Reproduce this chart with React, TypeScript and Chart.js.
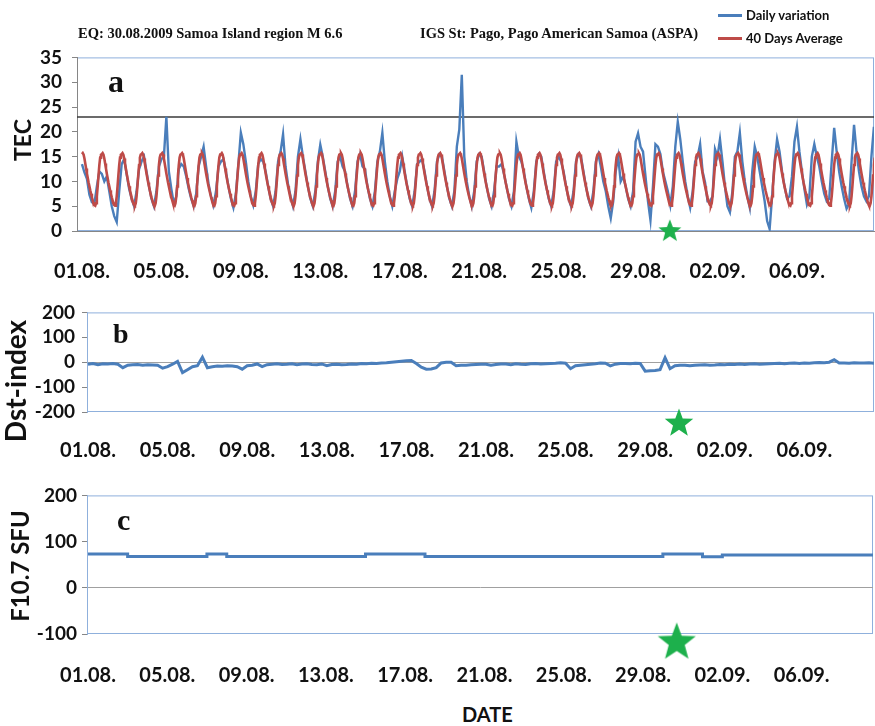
import React, { useEffect, useRef } from "react";
import { Chart, registerables } from "chart.js";

Chart.register(...registerables);

// ---------- data ----------
const dateLabels = ["01.08.", "05.08.", "09.08.", "13.08.", "17.08.", "21.08.", "25.08.", "29.08.", "02.09.", "06.09."];
const labelDays = [0, 4, 8, 12, 16, 20, 24, 28, 32, 36];

// 40-day average TEC diurnal profile (UT hours 0..23), repeated every day
const avgProfile = [15.5, 15.7, 15.4, 14.6, 13.6, 12.6, 11.6, 10.7, 9.8, 9.0, 8.2, 7.5, 6.8, 6.2, 5.6, 5.2, 5.1, 5.6, 7.0, 9.0, 11.2, 13.3, 14.8, 15.4];

// Daily TEC variation, one row per day, values at UT 0,3,6,9,12,15,18,21 h
const dailyVariation = [
  [13.5, 11.8, 10.5, 7.3, 5.8, 5.5, 9, 12],
  [11.5, 10, 11, 8, 5, 3, 1.8, 8],
  [13.5, 14.5, 11.5, 8.5, 6.5, 5, 8, 12.5],
  [14, 15, 12, 9, 6.5, 5, 8, 13],
  [14.5, 15, 23, 12, 8.5, 5.5, 7, 12.5],
  [13.5, 13, 11, 8.5, 6.5, 5, 7.5, 13],
  [15, 17, 13, 9.5, 7, 5.2, 8, 13],
  [14, 14.5, 12, 9, 6.5, 4.7, 7.5, 13.5],
  [19.8, 17.5, 14, 10, 7, 5.2, 8, 13.5],
  [14.5, 14, 12, 9, 6.5, 5, 8, 14],
  [16, 19.5, 13, 9.5, 7, 5, 8, 15],
  [18.5, 15, 12, 9, 6.5, 5, 8, 14],
  [17.4, 15, 12, 9, 6.5, 5, 8, 14],
  [15, 13, 12, 9, 6.5, 5, 8, 14],
  [15.5, 13, 12.5, 9, 6.5, 5, 8, 14],
  [16, 19.8, 14, 10, 7, 5, 8, 10.5],
  [12, 15, 12, 9, 6.5, 5, 8, 13.5],
  [14, 14.5, 12, 9, 6.5, 5, 8, 14],
  [15.5, 15, 12, 9, 6.5, 5, 8, 17],
  [20.5, 31.5, 15, 10, 7, 5, 8, 14],
  [15.5, 15, 12, 9, 6.5, 5, 8, 13],
  [13, 13.5, 11.5, 9, 6.5, 5, 8, 18],
  [15, 14, 12, 9, 6.5, 4.7, 8, 14],
  [15.5, 15, 12, 9, 6.5, 5, 8, 14],
  [15, 14, 12, 9, 6.5, 5, 8, 14],
  [15.5, 15, 12, 9, 6.5, 5, 8, 14],
  [15.5, 13, 10, 8, 5, 2.6, 6, 12],
  [15, 10, 11, 9, 6.5, 5, 8, 18],
  [19.7, 17, 16, 11, 6, 2.2, 9, 17.5],
  [17, 15.5, 12, 10, 8, 5.2, 9, 17],
  [22, 18.5, 14, 10, 7, 4.7, 8, 14],
  [15, 17.5, 12, 9.8, 6, 6, 7, 16.5],
  [15, 18.5, 14, 9, 5, 3.8, 8, 15],
  [16, 19.8, 14, 10, 7, 4.7, 12, 17],
  [15, 12, 9, 6, 2, 0.4, 7, 14],
  [18.5, 16, 12, 9, 6.6, 7, 11, 18],
  [21, 16, 12, 8.5, 5.4, 7, 15, 17.5],
  [15, 13, 10, 7.5, 6, 6.5, 14, 20.8],
  [16, 12, 9, 6.5, 4.5, 5.5, 14, 21.4],
  [16, 12, 9, 7, 6, 7, 15, 21],
];

// Dst index, one row per day, values at UT 0,6,12,18 h
const dstIndex = [
  [-8, -5, -10, -6], [-7, -5, -8, -22], [-12, -10, -9, -12], [-10, -11, -12, -24],
  [-18, -8, 3, -42], [-30, -18, -14, 20], [-22, -18, -15, -16], [-14, -15, -18, -28],
  [-14, -12, -7, -18], [-10, -8, -6, -9], [-8, -6, -10, -7], [-6, -9, -10, -7],
  [-14, -9, -8, -10], [-9, -7, -8, -5], [-6, -4, -5, -3], [-2, 0, 2, 4],
  [6, 7, -5, -20], [-28, -27, -22, -3], [0, 0, -14, -12], [-12, -10, -9, -8],
  [-8, -12, -9, -7], [-7, -10, -6, -8], [-9, -6, -5, -7], [-6, -5, -4, -2],
  [-4, -26, -14, -12], [-10, -8, -6, -3], [-4, -15, -8, -5], [-5, -6, -4, -5],
  [-36, -34, -33, -30], [18, -26, -14, -12], [-12, -14, -12, -11], [-10, -12, -11, -9],
  [-10, -8, -9, -7], [-9, -7, -6, -8], [-7, -6, -5, -4], [-6, -4, -3, -5],
  [-3, -4, -2, -1], [-2, 0, 10, -3], [-3, -4, -2, -3], [-3, -2, -4, -3],
];

// F10.7 solar flux, daily values
const f107 = [73, 73, 68, 68, 68, 68, 73, 68, 68, 68, 68, 68, 68, 68, 73, 73, 73, 68, 68, 68,
  68, 68, 68, 68, 68, 68, 68, 68, 68, 73, 73, 67, 71, 71, 71, 71, 71, 71, 71, 71];

const tecThreshold = 23;
const eqDay = 29.7;

// ---------- styles ----------
const BLUE = "#4a7ebb";
const RED = "#be4b48";
const FRAME = "#8fb0dc";
const AXIS = "#868686";
const STAR = "#1db04c";
const FONT = "Lato";

function makeStar(R: number) {
  const c = document.createElement("canvas");
  c.width = Math.ceil(2 * R);
  c.height = Math.ceil(2 * R);
  const ctx = c.getContext("2d")!;
  const cx = R, cy = R * 1.1;
  const r = R * 0.42;
  ctx.beginPath();
  for (let i = 0; i < 10; i++) {
    const rad = i % 2 === 0 ? R : r;
    const a = -Math.PI / 2 + (i * Math.PI) / 5;
    const x = cx + rad * Math.cos(a);
    const y = cy + rad * Math.sin(a);
    if (i === 0) ctx.moveTo(x, y); else ctx.lineTo(x, y);
  }
  ctx.closePath();
  ctx.fillStyle = STAR;
  ctx.fill();
  return c;
}

const framePlugin = {
  id: "frame",
  beforeDraw(chart: any, _args: any, opts: any) {
    const { ctx, chartArea: a } = chart;
    ctx.save();
    ctx.strokeStyle = opts.color || FRAME;
    ctx.lineWidth = 1;
    ctx.strokeRect(a.left + 0.5, a.top + 0.5, a.right - a.left - 1, a.bottom - a.top - 1);
    ctx.restore();
  },
};

function xAxis(min: number, max: number, pad: number, h: number, border: boolean) {
  return {
    type: "linear",
    min,
    max,
    afterBuildTicks: (s: any) => {
      s.ticks = labelDays.map((v) => ({ value: v }));
    },
    afterFit: (s: any) => {
      s.height = h;
    },
    grid: { display: false, drawTicks: false },
    border: { display: border, color: AXIS, width: 1 },
    ticks: {
      autoSkip: false,
      maxRotation: 0,
      padding: pad,
      color: "#111",
      font: { family: FONT, weight: "bold", size: 20 },
      callback: (v: any) => {
        const i = labelDays.indexOf(v);
        return i < 0 ? "" : dateLabels[i];
      },
    },
  };
}

function yAxis(min: number, max: number, step: number, w: number, borderColor: string, zeroLine: boolean, pad: number) {
  return {
    min,
    max,
    afterFit: (s: any) => {
      s.width = w;
    },
    ticks: { stepSize: step, autoSkip: false, padding: pad, color: "#111", font: { family: FONT, weight: "bold", size: 19 } },
    grid: {
      drawTicks: true,
      tickLength: 5,
      tickColor: AXIS,
      lineWidth: 1,
      color: (c: any) => (zeroLine && c.tick && c.tick.value === 0 ? "#a0a0a0" : "rgba(0,0,0,0)"),
    },
    border: { color: borderColor, width: 1 },
  };
}

const baseOptions = (padRight: number) => ({
  responsive: false,
  animation: false,
  events: [],
  layout: { autoPadding: false, padding: { top: 14, right: padRight, left: 0, bottom: 0 } },
  elements: { point: { radius: 0 }, line: { tension: 0 } },
});

function tecConfig(): any {
  const blue: { x: number; y: number }[] = [];
  dailyVariation.forEach((day, d) => day.forEach((v, k) => blue.push({ x: d + (k * 3) / 24, y: v })));
  const red: { x: number; y: number }[] = [];
  for (let d = 0; d < dailyVariation.length; d++) avgProfile.forEach((v, h) => red.push({ x: d + h / 24, y: v }));
  const xmin = -0.25, xmax = 39.88;
  return {
    type: "line",
    data: {
      datasets: [
        { data: [{ x: eqDay - 0.1, y: 0.2 }], showLine: false, pointStyle: makeStar(12), pointRadius: 12, clip: false },
        { label: "40 Days Average", data: red, borderColor: RED, borderWidth: 2.6, pointRadius: 0 },
        { label: "Daily variation", data: blue, borderColor: BLUE, borderWidth: 2.4, pointRadius: 0 },
        { data: [{ x: xmin, y: tecThreshold }, { x: xmax, y: tecThreshold }], borderColor: "#3a3a3a", borderWidth: 1.5, pointRadius: 0 },
      ],
    },
    options: {
      ...baseOptions(1),
      plugins: { legend: { display: false }, tooltip: { enabled: false }, frame: { color: FRAME } },
      scales: {
        x: xAxis(xmin, xmax, 29, 59, true),
        y: yAxis(0, 35, 5, 77, AXIS, false, 10),
      },
    },
    plugins: [framePlugin],
  };
}

function dstConfig(): any {
  const pts: { x: number; y: number }[] = [];
  dstIndex.forEach((day, d) => day.forEach((v, k) => pts.push({ x: d + (k * 6) / 24, y: v })));
  return {
    type: "line",
    data: {
      datasets: [
        { data: [{ x: eqDay, y: -240 }], showLine: false, pointStyle: makeStar(15), pointRadius: 15, clip: false },
        { label: "Dst", data: pts, borderColor: BLUE, borderWidth: 3, pointRadius: 0 },
      ],
    },
    options: {
      ...baseOptions(1),
      plugins: { legend: { display: false }, tooltip: { enabled: false }, frame: { color: FRAME } },
      scales: {
        x: xAxis(-0.05, 39.5, 27, 56, false),
        y: yAxis(-200, 200, 100, 87, FRAME, true, 7),
      },
    },
    plugins: [framePlugin],
  };
}

function fluxConfig(): any {
  const pts: { x: number; y: number }[] = f107.map((v, d) => ({ x: d, y: v }));
  pts.push({ x: f107.length, y: f107[f107.length - 1] });
  return {
    type: "line",
    data: {
      datasets: [
        { data: [{ x: eqDay, y: -114 }], showLine: false, pointStyle: makeStar(20), pointRadius: 20, clip: false },
        { label: "F10.7", data: pts, borderColor: BLUE, borderWidth: 3, pointRadius: 0, stepped: "before" },
      ],
    },
    options: {
      ...baseOptions(2),
      plugins: { legend: { display: false }, tooltip: { enabled: false }, frame: { color: FRAME } },
      scales: {
        x: xAxis(-0.05, 39.6, 30, 64, false),
        y: yAxis(-100, 200, 100, 87, FRAME, true, 5),
      },
    },
    plugins: [framePlugin],
  };
}

function ChartCanvas({ make, top, height }: { make: () => any; top: number; height: number }) {
  const ref = useRef<HTMLCanvasElement>(null);
  useEffect(() => {
    const chart = new Chart(ref.current as HTMLCanvasElement, make());
    return () => chart.destroy();
  }, []);
  return (
    <canvas
      ref={ref}
      width={875}
      height={height}
      style={{ position: "absolute", left: 0, top, width: 875, height }}
    />
  );
}

function Text({ x, y, size, family, children, weight = "bold" }: any) {
  return (
    <div
      style={{
        position: "absolute",
        left: x,
        top: y,
        font: `${weight} ${size}px ${family}`,
        lineHeight: 1,
        whiteSpace: "nowrap",
        color: "#111",
      }}
    >
      {children}
    </div>
  );
}

function VText({ cx, cy, size, children }: any) {
  return (
    <div
      style={{
        position: "absolute",
        left: cx,
        top: cy,
        transform: "translate(-50%, -50%) rotate(-90deg)",
        font: `bold ${size}px ${FONT}`,
        lineHeight: 1,
        whiteSpace: "nowrap",
        color: "#111",
      }}
    >
      {children}
    </div>
  );
}

export default function App() {
  const serif = '"Liberation Serif", "Times New Roman", serif';
  return (
    <div style={{ position: "absolute", left: 0, top: 0, width: 875, height: 726, background: "#fff", overflow: "hidden" }}>
      <ChartCanvas make={tecConfig} top={36} height={254} />
      <ChartCanvas make={dstConfig} top={294} height={174} />
      <ChartCanvas make={fluxConfig} top={479} height={219} />

      <Text x={78} y={26} size={14.5} family={serif}>EQ: 30.08.2009 Samoa Island region M 6.6</Text>
      <Text x={420} y={26} size={14.5} family={serif}>IGS St: Pago, Pago American Samoa (ASPA)</Text>

      <div style={{ position: "absolute", left: 718, top: 14, width: 24, height: 2.5, background: BLUE }} />
      <Text x={746} y={9} size={13} family={FONT}>Daily variation</Text>
      <div style={{ position: "absolute", left: 718, top: 37, width: 24, height: 2.5, background: RED }} />
      <Text x={746} y={32} size={13} family={FONT}>40 Days Average</Text>

      <Text x={108} y={65} size={32} family={serif}>a</Text>
      <Text x={113} y={320} size={28} family={serif}>b</Text>
      <Text x={117} y={505} size={30} family={serif}>c</Text>

      <VText cx={22} cy={140} size={23}>TEC</VText>
      <VText cx={15} cy={381} size={28}>Dst-index</VText>
      <VText cx={20} cy={566} size={24}>F10.7 SFU</VText>

      <Text x={462} y={704} size={20} family={FONT}>DATE</Text>
    </div>
  );
}
